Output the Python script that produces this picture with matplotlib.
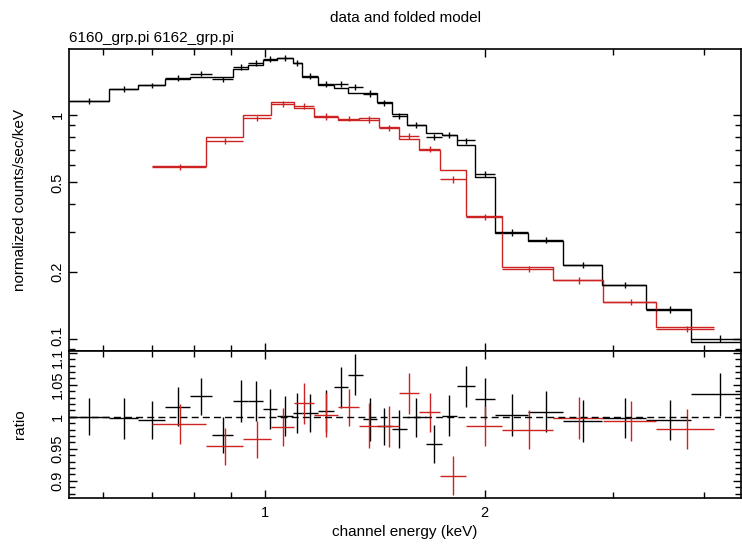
import numpy as np
import matplotlib
matplotlib.use("Agg")
import matplotlib.pyplot as plt
import matplotlib.transforms as mtransforms
from matplotlib.ticker import FixedLocator, FixedFormatter, NullFormatter

# ---------------- data ----------------
# dataset 1 (6160_grp.pi, black): channel bin edges (keV)
black_edges = np.array([0.538, 0.612, 0.670, 0.730, 0.790, 0.846, 0.905, 0.949, 0.995,
                        1.038, 1.092, 1.124, 1.182, 1.243, 1.299, 1.362, 1.423, 1.492,
                        1.564, 1.661, 1.747, 1.831, 1.938, 2.070, 2.297, 2.565, 2.900,
                        3.332, 3.838, 4.579])
# folded model (normalized counts/sec/keV)
black_model = np.array([1.155, 1.306, 1.361, 1.443, 1.483, 1.483, 1.604, 1.671, 1.759,
                        1.791, 1.700, 1.483, 1.361, 1.316, 1.250, 1.250, 1.147, 1.007,
                        0.902, 0.834, 0.814, 0.734, 0.530, 0.298, 0.274, 0.215, 0.175,
                        0.136, 0.097])
# data / model ratio and its error
black_ratio = np.array([1.000, 0.998, 0.995, 1.016, 1.032, 0.971, 1.025, 1.025, 1.012,
                        1.001, 1.006, 1.006, 1.009, 1.046, 1.066, 0.996, 0.985, 0.981,
                        0.999, 0.957, 1.002, 1.048, 1.028, 1.003, 1.008, 0.993, 0.998,
                        0.995, 1.035])
black_err = np.array([0.029, 0.032, 0.029, 0.031, 0.029, 0.028, 0.033, 0.031, 0.031,
                      0.031, 0.032, 0.029, 0.033, 0.032, 0.032, 0.034, 0.029, 0.030,
                      0.030, 0.030, 0.032, 0.032, 0.032, 0.033, 0.032, 0.033, 0.031,
                      0.032, 0.034])

# dataset 2 (6162_grp.pi, red)
red_edges = np.array([0.700, 0.832, 0.934, 1.021, 1.096, 1.168, 1.259, 1.346, 1.434,
                      1.527, 1.626, 1.739, 1.886, 2.116, 2.483, 2.903, 3.438, 4.127])
red_model = np.array([0.594, 0.800, 1.000, 1.140, 1.075, 0.983, 0.950, 0.966, 0.887,
                      0.780, 0.698, 0.568, 0.355, 0.209, 0.183, 0.147, 0.113])
red_ratio = np.array([0.989, 0.954, 0.965, 0.984, 1.021, 1.003, 1.015, 0.986, 0.985,
                      1.037, 1.007, 0.908, 0.986, 0.980, 0.998, 0.993, 0.981])
red_err = np.array([0.031, 0.029, 0.029, 0.030, 0.032, 0.034, 0.029, 0.035, 0.032,
                    0.032, 0.030, 0.030, 0.031, 0.031, 0.033, 0.031, 0.031])

x_major = [1, 2]
x_major_labels = ["1", "2"]
x_minor = [0.6, 0.7, 0.8, 0.9, 3, 4]
top_major = [0.1, 0.2, 0.5, 1]
top_major_labels = ["0.1", "0.2", "0.5", "1"]
top_minor = [0.09, 0.3, 0.4, 0.6, 0.7, 0.8, 0.9]
ratio_major = [0.9, 0.95, 1.0, 1.05, 1.1]
ratio_major_labels = ["0.9", "0.95", "1", "1.05", "1.1"]

title = "data and folded model"
subtitle = "6160_grp.pi 6162_grp.pi"
xlabel = "channel energy (keV)"
ylabel_top = "normalized counts/sec/keV"
ylabel_bot = "ratio"

# ---------------- figure ----------------
plt.rcParams['font.family'] = ['Liberation Sans', 'DejaVu Sans']
W, H = 742, 545
fig = plt.figure(figsize=(W / 100, H / 100), dpi=100)

L = 69 / W
R = 741 / W
ax1 = fig.add_axes([L, (H - 351) / H, R - L, (351 - 49) / H])
ax2 = fig.add_axes([L, (H - 498) / H, R - L, (498 - 351) / H], sharex=ax1)

RED = '#cc2222'
BLK = 'black'

def draw_set(edges, model, ratio, err, color):
    lo, hi = edges[:-1], edges[1:]
    c = 0.5 * (lo + hi)
    data = model * ratio
    ax1.stairs(model, edges, color=color, lw=1.0, baseline=None)
    ax1.errorbar(c, data, xerr=[c - lo, hi - c], yerr=model * err, fmt='none',
                 ecolor=color, elinewidth=1.0, capsize=0)
    ax2.errorbar(c, ratio, xerr=[c - lo, hi - c], yerr=err, fmt='none',
                 ecolor=color, elinewidth=1.0, capsize=0)

draw_set(black_edges, black_model, black_ratio, black_err, BLK)
draw_set(red_edges, red_model, red_ratio, red_err, RED)

ax2.axhline(1.0, color='black', lw=1.0, ls=(0, (5, 3)))

for ax in (ax1, ax2):
    ax.set_xscale('log')
    ax.set_xlim(0.5395, 4.49)
    ax.xaxis.set_major_locator(FixedLocator(x_major))
    ax.xaxis.set_minor_locator(FixedLocator(x_minor))
    ax.xaxis.set_minor_formatter(NullFormatter())
    for s in ax.spines.values():
        s.set_linewidth(1.2)
    ax.tick_params(which='both', direction='in', top=True, right=True,
                   width=1.0, labelsize=10.5, pad=3)
    ax.tick_params(which='major', length=6)
    ax.tick_params(which='minor', length=4)
    ax.tick_params(axis='x', pad=6)

ax1.set_yscale('log')
ax1.set_ylim(0.0884, 1.97)
ax1.yaxis.set_major_locator(FixedLocator(top_major))
ax1.yaxis.set_major_formatter(FixedFormatter(top_major_labels))
ax1.yaxis.set_minor_locator(FixedLocator(top_minor))
ax1.yaxis.set_minor_formatter(NullFormatter())
ax1.tick_params(axis='x', labelbottom=False)

ax2.set_ylim(0.873, 1.103)
ax2.yaxis.set_major_locator(FixedLocator(ratio_major))
ax2.yaxis.set_major_formatter(FixedFormatter(ratio_major_labels))
ax2.yaxis.set_minor_locator(FixedLocator(np.arange(0.88, 1.101, 0.01)))
ax2.yaxis.set_minor_formatter(NullFormatter())
ax2.xaxis.set_major_formatter(FixedFormatter(x_major_labels))

fig.canvas.draw()
for ax, shifts in ((ax1, {"0.1": 3}), (ax2, {"1.1": -5})):
    for t in ax.get_yticklabels():
        t.set_rotation(90)
        t.set_va('center')
        dy = shifts.get(t.get_text(), 0)
        if dy:
            t.set_transform(t.get_transform() +
                            mtransforms.ScaledTranslation(0, dy / 100, fig.dpi_scale_trans))

fig.text((69 + 741) / 2 / W, 1 - 18 / H, title, ha='center', va='center', fontsize=11)
fig.text(L, 1 - 38 / H, subtitle, ha='left', va='center', fontsize=11)
fig.text((69 + 741) / 2 / W, 1 - 532 / H, xlabel, ha='center', va='center', fontsize=11)
fig.text(20 / W, 1 - 200 / H, ylabel_top, ha='center', va='center', rotation=90, fontsize=11)
fig.text(20 / W, 1 - 424.5 / H, ylabel_bot, ha='center', va='center', rotation=90, fontsize=11)

fig.savefig('out.png', dpi=100)
